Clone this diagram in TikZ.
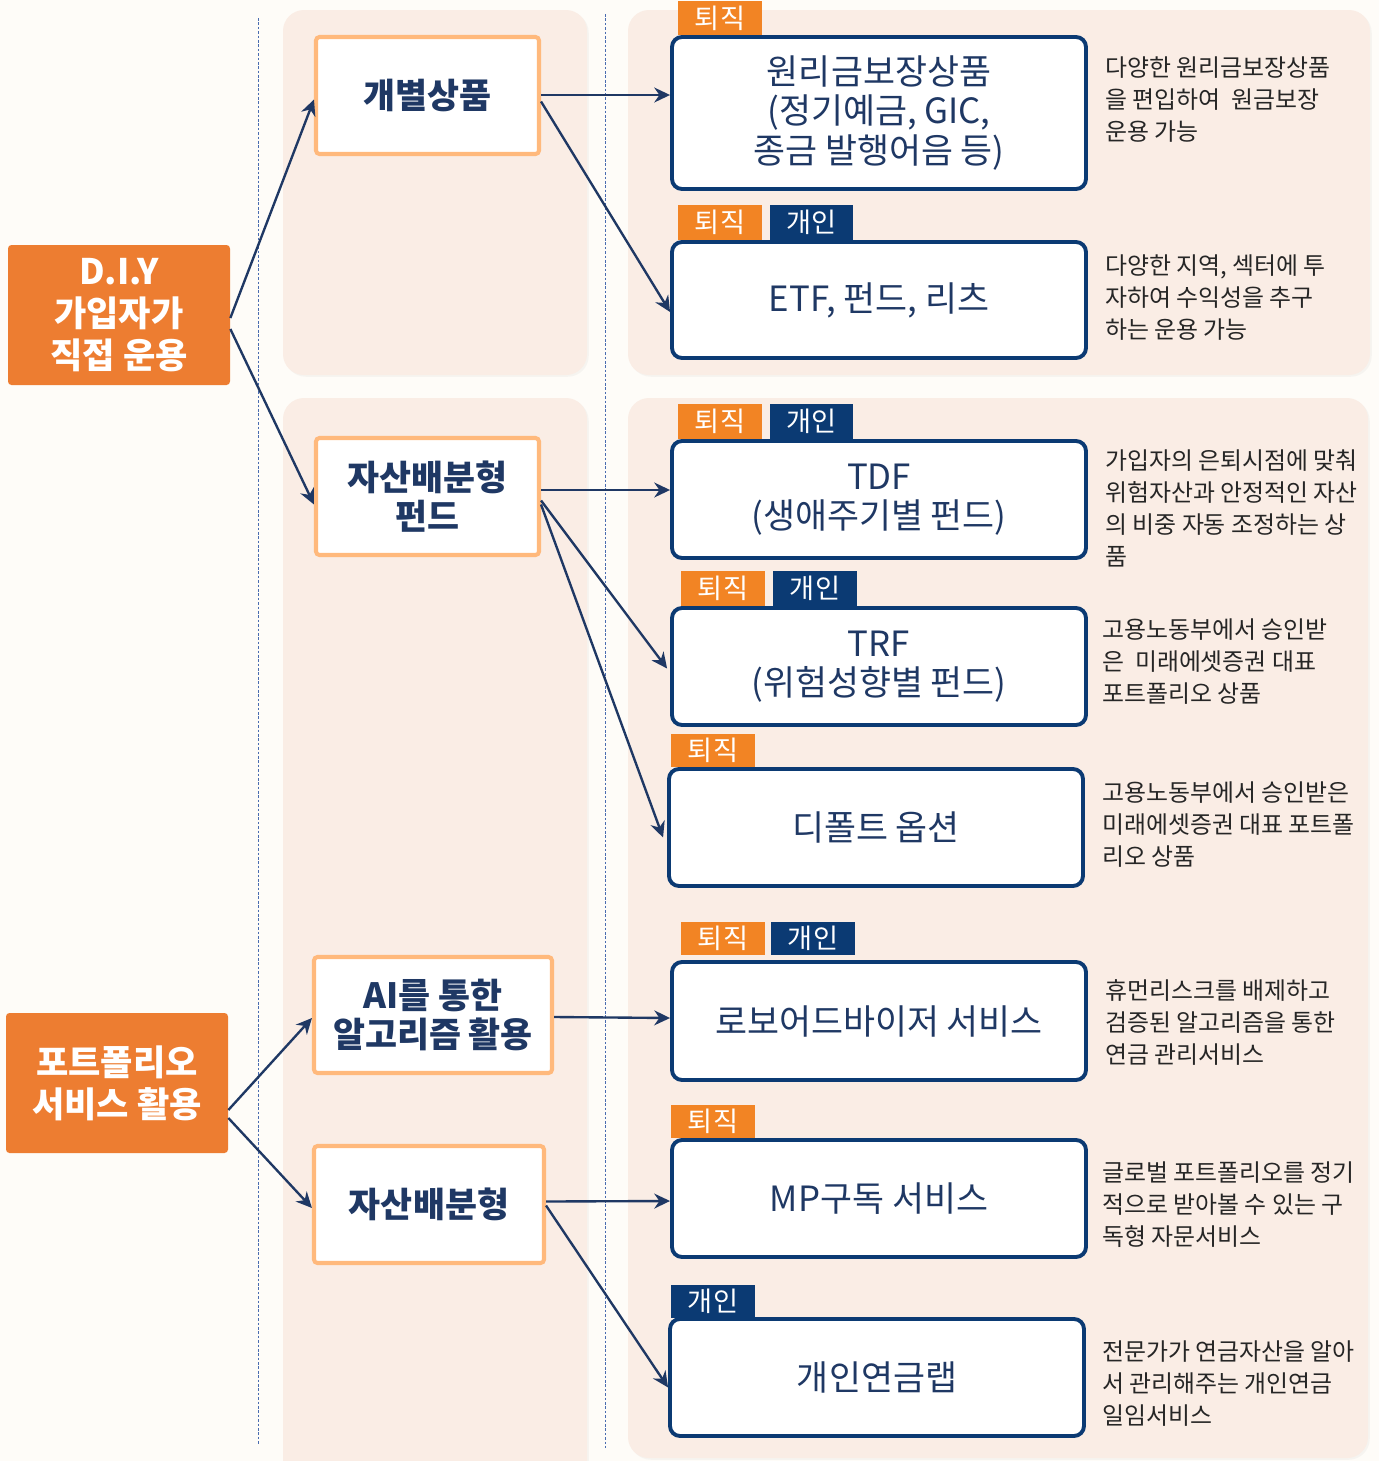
\documentclass[tikz,border=0pt]{standalone}
\usepackage{fontspec}
\setmainfont{Noto Sans CJK KR}
\usetikzlibrary{calc,arrows.meta,shadows}
\definecolor{bg}{HTML}{FEFCF8}
\definecolor{panel}{HTML}{FAEDE5}
\definecolor{navy}{HTML}{0B3A73}
\definecolor{ink}{HTML}{1F3864}
\definecolor{mainor}{HTML}{ED7D31}
\definecolor{tagor}{HTML}{F28424}
\definecolor{peach}{HTML}{FFB97C}
\definecolor{desc}{HTML}{262626}
\definecolor{sepblue}{HTML}{4A6CB0}
\begin{document}
\begin{tikzpicture}[x=0.02cm,y=-0.02cm,
  panelbox/.style={fill=panel, rounded corners=0.42cm, drop shadow={opacity=0.06, shadow xshift=1pt, shadow yshift=-1pt}},
  sz/.style 2 args={minimum width=#1*0.02cm, minimum height=#2*0.02cm},
  mainbox/.style={fill=mainor, rounded corners=2pt, inner sep=0pt, text=white, font=\fontsize{20}{23.8}\selectfont\bfseries, align=center},
  midbox/.style={fill=white, draw=peach, line width=2.3pt, rounded corners=2pt, inner sep=0pt, text=ink, font=\fontsize{19.8}{22.5}\selectfont\bfseries, align=center},
  rbox/.style={fill=white, draw=navy, line width=2.2pt, rounded corners=0.2cm, inner sep=0pt, text=ink, font=\fontsize{19.8}{22.3}\selectfont, align=center},
  tagA/.style={fill=tagor, inner sep=0pt, text=white, font=\fontsize{15.5}{16}\selectfont},
  tagB/.style={fill=navy, inner sep=0pt, text=white, font=\fontsize{15.5}{16}\selectfont},
  note/.style={anchor=base west, inner sep=0pt, text=desc, align=left, font=\fontsize{13.6}{18.14}\selectfont},
  conn/.style={draw=ink, line width=1.35pt, -{Stealth[length=9pt,width=8.5pt]}},
  sepline/.style={draw=sepblue, line width=0.5pt, dash pattern=on 1.5pt off 1pt}]

\useasboundingbox[fill=bg] (0,0) rectangle (1379,1461);

% panels
\path[panelbox] (283,10) rectangle (587,375);
\path[panelbox] (628,10) rectangle (1370,375);
\path[panelbox] (283,398) rectangle (587,1490);
\path[panelbox] (628,398) rectangle (1368,1458);

% separators
\coordinate (s1a) at (258,18); \coordinate (s1b) at (258,1445);
\coordinate (s2a) at (605,14); \coordinate (s2b) at (605,1448);
\draw[sepline] (s1a) -- (s1b);
\draw[sepline] (s2a) -- (s2b);

% left boxes
\node[mainbox, sz={222}{140}] (diy) at (119,315) {D.I.Y\\가입자가\\직접 운용};
\node[mainbox, sz={222}{140}] (pf) at (117,1083) {포트폴리오\\서비스 활용};

% middle boxes
\node[midbox, sz={223}{117}] (m1) at (427.5,95.5) {개별상품};
\node[midbox, sz={223}{117}] (m2) at (427.5,496.5) {자산배분형\\펀드};
\node[midbox, sz={238}{116}] (m3) at (433,1015) {AI를 통한\\알고리즘 활용};
\node[midbox, sz={230}{117}] (m4) at (429,1204.5) {자산배분형};

% right boxes
\node[rbox, sz={414}{152}] (r1) at (879,113) {원리금보장상품\\(정기예금, GIC,\\종금 발행어음 등)};
\node[rbox, sz={414}{116}] (r2) at (879,300) {ETF, 펀드, 리츠};
\node[rbox, sz={414}{117}] (r3) at (879,499.5) {TDF\\(생애주기별 펀드)};
\node[rbox, sz={414}{117}] (r4) at (879,666.5) {TRF\\(위험성향별 펀드)};
\node[rbox, sz={414}{117}] (r5) at (876,827.5) {디폴트 옵션};
\node[rbox, sz={414}{118}] (r6) at (879,1021) {로보어드바이저 서비스};
\node[rbox, sz={414}{117}] (r7) at (879,1198.5) {MP구독 서비스};
\node[rbox, sz={414}{117}] (r8) at (877,1377.5) {개인연금랩};

% tags
\node[tagA, sz={84}{34}] (t1a) at (720,18) {퇴직};
\node[tagA, sz={84}{35}] (t2a) at (720,222.5) {퇴직};
\node[tagB, sz={83}{35}] (t2b) at (811.5,222.5) {개인};
\node[tagA, sz={84}{35}] (t3a) at (720,421.5) {퇴직};
\node[tagB, sz={83}{35}] (t3b) at (811.5,421.5) {개인};
\node[tagA, sz={84}{35}] (t4a) at (723,588.5) {퇴직};
\node[tagB, sz={84}{35}] (t4b) at (815,588.5) {개인};
\node[tagA, sz={84}{33}] (t5a) at (713,750.5) {퇴직};
\node[tagA, sz={84}{33}] (t6a) at (723,938.5) {퇴직};
\node[tagB, sz={84}{33}] (t6b) at (813,938.5) {개인};
\node[tagA, sz={84}{33}] (t7a) at (713,1121.5) {퇴직};
\node[tagB, sz={84}{33}] (t8b) at (713,1301.5) {개인};

% notes (anchored at the baseline of the last line)
\node[note] (n1) at (1105,140) {다양한 원리금보장상품\\을 편입하여\ \ 원금보장\\운용 가능};
\node[note] (n2) at (1105,338) {다양한 지역, 섹터에 투\\자하여 수익성을 추구\\하는 운용 가능};
\node[note] (n3) at (1105,565) {가입자의 은퇴시점에 맞춰\\위험자산과 안정적인 자산\\의 비중 자동 조정하는 상\\품};
\node[note] (n4) at (1102,702) {고용노동부에서 승인받\\은\ \ 미래에셋증권 대표\\포트폴리오 상품};
\node[note] (n5) at (1102,865) {고용노동부에서 승인받은\\미래에셋증권 대표 포트폴\\리오 상품};
\node[note] (n6) at (1105,1063) {휴먼리스크를 배제하고\\검증된 알고리즘을 통한\\연금 관리서비스};
\node[note] (n7) at (1102,1245) {글로벌 포트폴리오를 정기\\적으로 받아볼 수 있는 구\\독형 자문서비스};
\node[note] (n8) at (1102,1424) {전문가가 연금자산을 알아\\서 관리해주는 개인연금\\일임서비스};

% connectors
\draw[conn] ($(diy.east)+(0,3)$) -- ($(m1.west)+(0,4)$);
\draw[conn] ($(diy.east)+(0,14)$) -- ($(m2.west)+(0,8)$);
\draw[conn] ($(m1.east)+(0,-0.5)$) -- ($(r1.west)+(0,-18)$);
\draw[conn] ($(m1.east)+(0,6)$) -- ($(r2.west)+(0,12)$);
\draw[conn] ($(m2.east)+(0,-6.5)$) -- ($(r3.west)+(0,-9.5)$);
\draw[conn] ($(m2.east)+(0,4)$) -- ($(r4.west)+(-3,2)$);
\draw[conn] ($(m2.east)+(0,8)$) -- ($(r5.west)+(-4,10)$);
\draw[conn] ($(pf.east)+(0,27)$) -- ($(m3.west)+(0,3)$);
\draw[conn] ($(pf.east)+(0,35)$) -- ($(m4.west)+(0,3.5)$);
\draw[conn] ($(m3.east)+(0,2)$) -- ($(r6.west)+(0,-3)$);
\draw[conn] ($(m4.east)+(0,-3)$) -- ($(r7.west)+(0,2.5)$);
\draw[conn] ($(m4.east)+(0,1)$) -- ($(r8.west)+(0,10)$);
\end{tikzpicture}
\end{document}
